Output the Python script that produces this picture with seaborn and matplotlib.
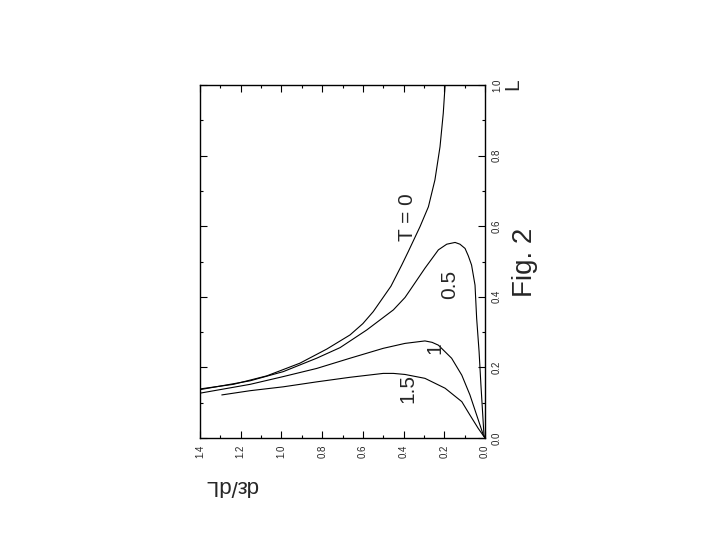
import matplotlib
matplotlib.use('Agg')
import matplotlib.pyplot as plt
import seaborn as sns
import pandas as pd
from matplotlib.ticker import MultipleLocator, FormatStrFormatter

# curves: dε/dL (horizontal, reversed) against L (vertical)
t0_dedl = [0.196, 0.205, 0.221, 0.246, 0.278, 0.319, 0.377, 0.409, 0.462, 0.549, 0.60, 0.663,
           0.777, 0.909, 1.072, 1.236, 1.40]
t0_L = [1.000, 0.920, 0.825, 0.731, 0.655, 0.599, 0.528, 0.490, 0.430, 0.358, 0.324, 0.292,
        0.252, 0.212, 0.176, 0.152, 0.139]

t05_dedl = [1.40, 1.154, 0.991, 0.827, 0.712, 0.581, 0.450, 0.393, 0.368, 0.295, 0.229, 0.188,
            0.147, 0.123, 0.098, 0.082, 0.066, 0.049, 0.041, 0.029, 0.020, 0.011, 0.005, 0.0]
t05_L = [0.137, 0.162, 0.188, 0.226, 0.256, 0.306, 0.363, 0.398, 0.419, 0.481, 0.533, 0.549,
         0.554, 0.549, 0.537, 0.516, 0.490, 0.433, 0.339, 0.244, 0.150, 0.065, 0.008, 0.0]

t1_dedl = [1.40, 1.154, 0.991, 0.827, 0.663, 0.50, 0.393, 0.295, 0.26, 0.229, 0.164, 0.114,
           0.074, 0.041, 0.008, 0.0]
t1_L = [0.127, 0.152, 0.174, 0.197, 0.226, 0.254, 0.268, 0.275, 0.271, 0.263, 0.226, 0.178,
        0.122, 0.065, 0.008, 0.0]

t15_dedl = [1.293, 1.154, 0.991, 0.827, 0.663, 0.50, 0.45, 0.393, 0.295, 0.196, 0.114, 0.074,
            0.033, 0.0]
t15_L = [0.122, 0.134, 0.145, 0.159, 0.172, 0.183, 0.183, 0.180, 0.169, 0.141, 0.103, 0.065,
         0.027, 0.0]

curve_labels = ['T = 0', '0.5', '1', '1.5']
label_dedl = [0.383, 0.172, 0.246, 0.378]
label_L = [0.626, 0.436, 0.255, 0.139]

sns.set_style('ticks')
plt.rcParams['font.family'] = ['Liberation Sans', 'DejaVu Sans']

fig = plt.figure(figsize=(7.05, 5.45), dpi=100)
ax = fig.add_axes([200/705, 1-438/545, 285/705, 353/545])

curves = [(t0_dedl, t0_L), (t05_dedl, t05_L), (t1_dedl, t1_L), (t15_dedl, t15_L)]
for name, (xs, ys) in zip(curve_labels, curves):
    d = pd.DataFrame({'dedl': xs, 'L': ys})
    sns.lineplot(data=d, x='dedl', y='L', ax=ax, sort=False, estimator=None,
                 color='black', lw=0.8)

for s, x, y in zip(curve_labels, label_dedl, label_L):
    ax.text(x, y, s, rotation=90, ha='center', va='center', fontsize=15)

ax.set_xlim(1.4, 0.0)
ax.set_ylim(0.0, 1.0)
ax.set_xlabel('')
ax.set_ylabel('')
ax.xaxis.set_major_locator(MultipleLocator(0.2))
ax.xaxis.set_minor_locator(MultipleLocator(0.1))
ax.yaxis.set_major_locator(MultipleLocator(0.2))
ax.yaxis.set_minor_locator(MultipleLocator(0.1))
ax.xaxis.set_major_formatter(FormatStrFormatter('%.1f'))
ax.yaxis.set_major_formatter(FormatStrFormatter('%.1f'))
ax.tick_params(which='both', direction='in', top=True, right=True, bottom=True, left=True,
               labelleft=False, labelright=True, labelbottom=True, color='black', width=0.8)
ax.tick_params(which='major', length=5, labelsize=7, pad=5)
ax.tick_params(which='minor', length=2.5)
ax.tick_params(axis='x', labelrotation=90)
ax.tick_params(axis='y', labelrotation=90)
for lab in ax.get_yticklabels():
    lab.set_va('center')
for sp in ax.spines.values():
    sp.set_visible(True)
    sp.set_linewidth(1.0)
    sp.set_color('black')

fig.text(232/705, 1-486/545, 'dε/dL', rotation=180, ha='center', va='center', fontsize=16)
fig.text(513/705, 1-84/545, 'L', rotation=90, ha='center', va='center', fontsize=15)
fig.text(525/705, 1-262/545, 'Fig. 2', rotation=90, ha='center', va='center', fontsize=20)

fig.savefig('out.png', dpi=100)
